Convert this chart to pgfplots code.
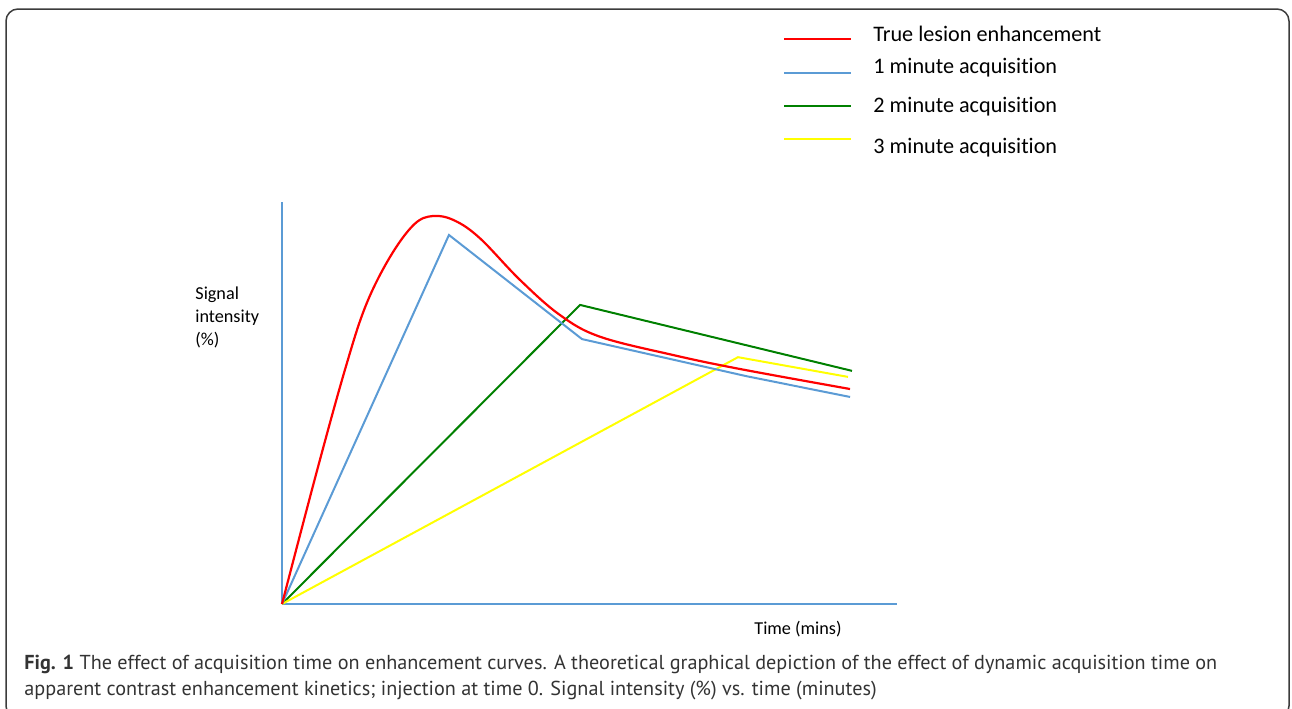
\documentclass[border=0pt]{standalone}
\usepackage{pgfplots}
\pgfplotsset{compat=1.18}
\usepackage{fontspec}
\setmainfont{Carlito}[Ligatures=NoCommon]
\newfontfamily\capfont{PT Sans}

\definecolor{sred}{HTML}{FF0000}
\definecolor{sblue}{HTML}{5B9BD5}
\definecolor{sgreen}{HTML}{008000}
\definecolor{syellow}{HTML}{FFFF00}
\definecolor{framegray}{HTML}{3C3C3C}
\definecolor{captext}{HTML}{333333}

% curves: time in minutes, signal in %
\pgfplotstableread{
t      s
0      0
0.240  34.08
0.427  59.20
0.560  74.38
0.720  86.32
0.880  94.40
1.007  96.52
1.150  95.40
1.320  90.97
1.587  80.60
1.853  71.89
2.120  66.49
2.607  61.94
3.053  58.46
3.787  53.48
}\truecurve

\begin{document}
\begin{tikzpicture}
\useasboundingbox (0pt,0pt) rectangle (646pt,-354pt);
\begin{scope}[x=0.5pt,y=-0.5pt]
  \begin{scope}
    \clip (0,0) rectangle (1292,708);
    \draw[framegray, line width=0.75pt, rounded corners=6pt] (6,9) rectangle (1289,718);
  \end{scope}
  % legend
  \draw[sred,    line width=1pt] (784,39)  -- (851,39);
  \draw[sblue,   line width=1pt] (784,73)  -- (851,73);
  \draw[sgreen,  line width=1pt] (784,106) -- (851,106);
  \draw[syellow, line width=1pt] (784,139) -- (851,139);
  \begin{scope}[every node/.style={anchor=base west, inner sep=0pt, font=\fontsize{11.1pt}{13pt}\selectfont}]
    \node at (873,41)  {True lesion enhancement};
    \node at (873,73)  {1 minute acquisition};
    \node at (873,112) {2 minute acquisition};
    \node at (873,153) {3 minute acquisition};
  \end{scope}
  % axis labels
  \begin{scope}[every node/.style={anchor=base west, inner sep=0pt, font=\fontsize{9.1pt}{11pt}\selectfont}]
    \node at (195,299) {Signal};
    \node at (195,322) {intensity};
    \node at (195,345) {(\%)};
    \node at (754,634) {Time (mins)};
  \end{scope}
  % caption
  \begin{scope}[every node/.style={anchor=base west, inner sep=0pt, text=captext, font=\capfont\fontsize{10.1pt}{12pt}\selectfont}]
    \node at (24,669) {\textbf{Fig. 1} The effect of acquisition time on enhancement curves. A theoretical graphical depiction of the effect of dynamic acquisition time on};
    \node at (24,695) {apparent contrast enhancement kinetics; injection at time 0. Signal intensity (\%) vs. time (minutes)};
  \end{scope}
\end{scope}

\begin{axis}[
    at={(141pt,-302pt)}, anchor=south west,
    scale only axis,
    width=307.5pt, height=201pt,
    xmin=0, xmax=4.1,
    ymin=0, ymax=100,
    axis lines=left,
    axis line style={-, sblue, line width=1pt},
    xtick=\empty, ytick=\empty,
    clip=false,
    every axis plot/.append style={line width=1pt},
    ]
  \addplot[sgreen] coordinates {(0,0) (1.987,74.4) (3.8,58.0)};
  \addplot[syellow] coordinates {(0,0) (3.04,61.4) (3.773,56.5)};
  \addplot[sblue] coordinates {(0,0) (1.113,91.8) (2.0,65.9) (3.093,56.7) (3.787,51.5)};
  \addplot[sred, line width=1.1pt, smooth, tension=0.6] table[x=t, y=s] {\truecurve};
\end{axis}
\end{tikzpicture}
\end{document}
